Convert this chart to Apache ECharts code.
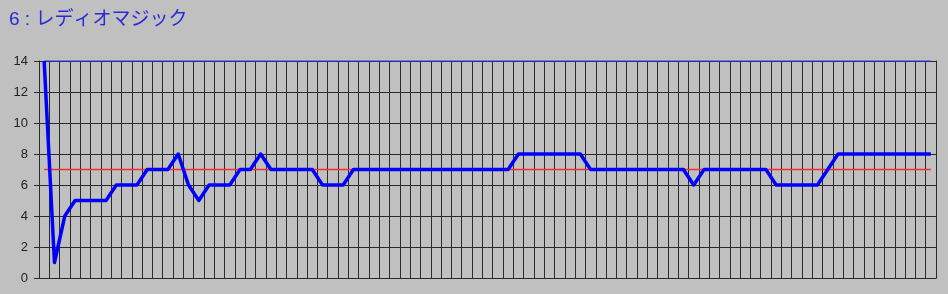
<!DOCTYPE html>
<html>
<head>
<meta charset="utf-8">
<script src="https://cdn.jsdelivr.net/npm/echarts@6/dist/echarts.min.js"></script>
<style>
html,body{margin:0;padding:0;background:#c0c0c0;}
#chart{width:948px;height:294px;}
</style>
</head>
<body>
<div id="chart"></div>
<script>
var titleText = "6 : レディオマジック";
var yTicks = [0, 2, 4, 6, 8, 10, 12, 14];
var mainValues = [
  14, 1, 4, 5, 5, 5, 5, 6, 6, 6,
  7, 7, 7, 8, 6, 5, 6, 6, 6, 7,
  7, 8, 7, 7, 7, 7, 7, 6, 6, 6,
  7, 7, 7, 7, 7, 7, 7, 7, 7, 7,
  7, 7, 7, 7, 7, 7, 8, 8, 8, 8,
  8, 8, 8, 7, 7, 7, 7, 7, 7, 7,
  7, 7, 7, 6, 7, 7, 7, 7, 7, 7,
  7, 6, 6, 6, 6, 6, 7, 8, 8, 8,
  8, 8, 8, 8, 8, 8, 8
];
var averageValue = 7;
var maxValue = 14;

var categories = mainValues.map(function (_, i) { return String(i + 1); });
var averageLine = mainValues.map(function () { return averageValue; });
var maxLine = mainValues.map(function () { return maxValue; });

var chart = echarts.init(document.getElementById('chart'));
chart.setOption({
  animation: false,
  backgroundColor: '#c0c0c0',
  title: {
    text: titleText,
    left: 4,
    top: 5,
    textStyle: {
      color: '#2a2ad8',
      fontSize: 19,
      fontWeight: 'normal',
      fontFamily: '"Liberation Sans", "Noto Sans CJK JP", sans-serif'
    }
  },
  grid: {
    left: 39,
    right: 12,
    top: 61,
    bottom: 16,
    show: false
  },
  xAxis: {
    type: 'category',
    data: categories,
    boundaryGap: true,
    axisLine: { show: true, lineStyle: { color: '#2a2a2a', width: 1 } },
    axisTick: { show: false },
    axisLabel: { show: false },
    splitLine: { show: true, interval: 0, lineStyle: { color: '#2a2a2a', width: 1 } }
  },
  yAxis: [
    {
      type: 'value',
      min: yTicks[0],
      max: yTicks[yTicks.length - 1],
      interval: 2,
      axisLine: { show: true, lineStyle: { color: '#2a2a2a', width: 1 } },
      axisTick: { show: true, length: 5, lineStyle: { color: '#2a2a2a', width: 1 } },
      axisLabel: {
        show: true,
        margin: 11,
        color: '#222',
        fontSize: 13,
        fontFamily: '"Liberation Sans", Arial, sans-serif'
      },
      splitLine: { show: true, lineStyle: { color: '#2a2a2a', width: 1 } }
    },
    {
      type: 'value',
      position: 'right',
      min: yTicks[0],
      max: yTicks[yTicks.length - 1],
      interval: 2,
      axisLine: { show: true, lineStyle: { color: '#2a2a2a', width: 1 } },
      axisTick: { show: false },
      axisLabel: { show: false },
      splitLine: { show: false }
    }
  ],
  series: [
    {
      type: 'line',
      data: maxLine,
      symbol: 'none',
      clip: false,
      lineStyle: { color: '#3030ff', width: 1 },
      z: 2
    },
    {
      type: 'line',
      data: averageLine,
      symbol: 'none',
      lineStyle: { color: '#ff2a2a', width: 1.5 },
      z: 3
    },
    {
      type: 'line',
      data: mainValues,
      symbol: 'none',
      lineStyle: { color: '#0000ff', width: 3.5, join: 'round' },
      z: 4
    }
  ]
});
</script>
</body>
</html>
